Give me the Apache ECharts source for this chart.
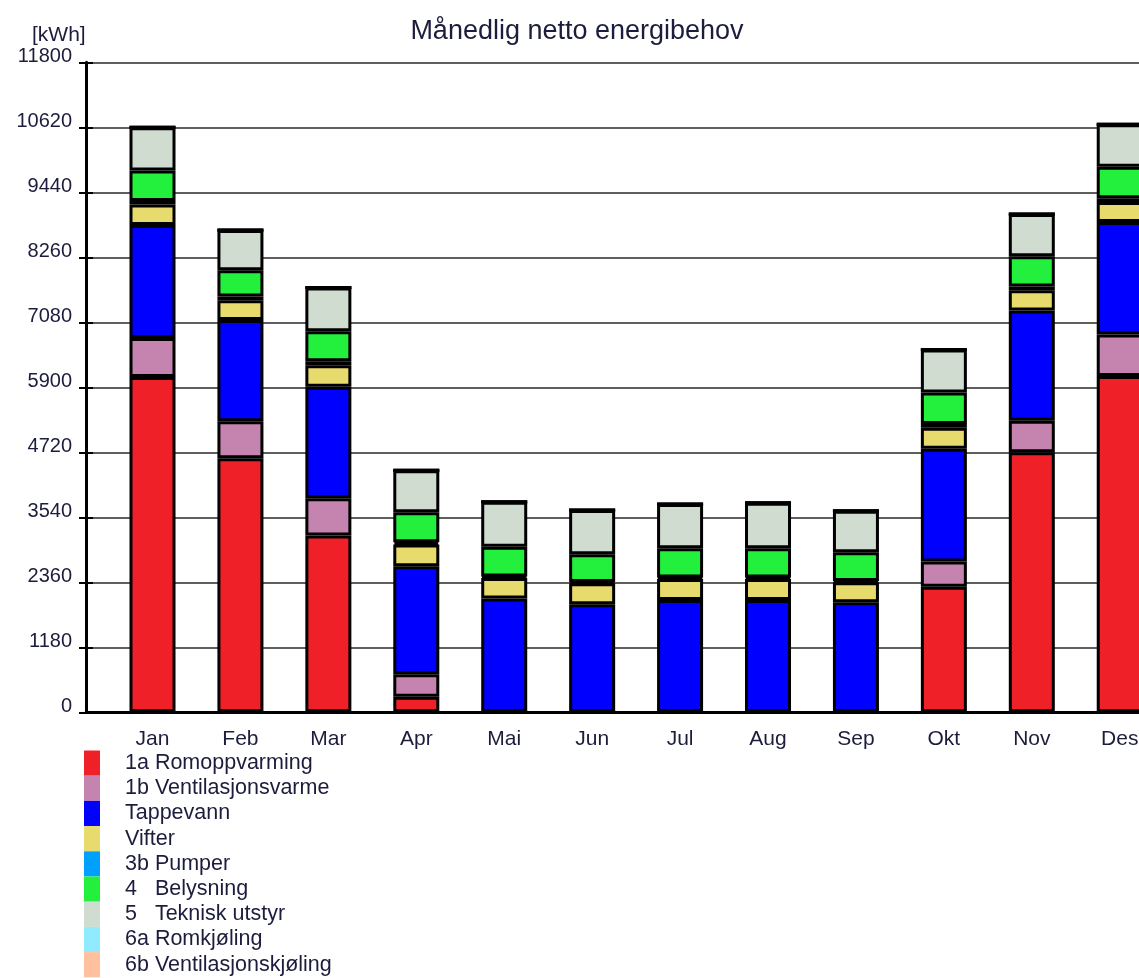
<!DOCTYPE html>
<html>
<head>
<meta charset="utf-8">
<title>Månedlig netto energibehov</title>
<script src="https://cdn.jsdelivr.net/npm/echarts@6/dist/echarts.min.js"></script>
<style>
  html, body { margin: 0; padding: 0; background: #fff; }
  #chart { width: 1139px; height: 978px; }
</style>
</head>
<body>
<div id="chart"></div>
<script>
// categories and tick values
const months = ['Jan', 'Feb', 'Mar', 'Apr', 'Mai', 'Jun', 'Jul', 'Aug', 'Sep', 'Okt', 'Nov', 'Des']
const yMax = 11800
const yStep = 1180

// kWh per month, one array per post
const romoppvarming = [6086, 4610, 3209, 283, 0, 0, 0, 0, 0, 2280, 4719, 6104]
const ventilasjonsvarme = [707, 673, 675, 407, 0, 0, 0, 0, 0, 457, 574, 753]
const tappevann = [2052, 1837, 2026, 1960, 2066, 1960, 2038, 2038, 1997, 2047, 2003, 2042]
const vifter = [372, 360, 390, 396, 374, 382, 384, 384, 363, 380, 365, 367]
const pumper = [67, 70, 75, 40, 25, 25, 25, 25, 25, 70, 70, 65]
const belysning = [553, 475, 541, 544, 541, 501, 530, 530, 519, 572, 546, 572]
const tekniskUtstyr = [786, 732, 798, 763, 816, 804, 803, 827, 755, 780, 770, 773]
const romkjoling = [0, 0, 0, 0, 0, 0, 0, 0, 0, 0, 0, 0]
const ventilasjonskjoling = [0, 0, 0, 0, 0, 0, 0, 0, 0, 0, 0, 0]

const posts = [
  { name: '1a Romoppvarming', data: romoppvarming, color: '#f02028' },
  { name: '1b Ventilasjonsvarme', data: ventilasjonsvarme, color: '#c583af' },
  { name: 'Tappevann', data: tappevann, color: '#0000ff' },
  { name: 'Vifter', data: vifter, color: '#e8db6e' },
  { name: '3b Pumper', data: pumper, color: '#00a0ff' },
  { name: '4   Belysning', data: belysning, color: '#22f03c' },
  { name: '5   Teknisk utstyr', data: tekniskUtstyr, color: '#d0dcd0' },
  { name: '6a Romkjøling', data: romkjoling, color: '#90ebff' },
  { name: '6b Ventilasjonskjøling', data: ventilasjonskjoling, color: '#ffc0a0' },
]

const font = "'Liberation Sans', Arial, sans-serif"
const textColor = '#1c1c3c'

// plot box: axis line at x=86, months spaced ~88px, first bar centre at 152.5
const W = 1139
const plotTop = 62.3
const plotH = 650
const band = 87.93
const barsLeft = 152.5 - band / 2
const barsRight = W - barsLeft - band * months.length

const chart = echarts.init(document.getElementById('chart'), null, { renderer: 'canvas' })

chart.setOption({
  animation: false,
  backgroundColor: '#fff',
  textStyle: { fontFamily: font },
  title: [
    {
      text: 'Månedlig netto energibehov',
      left: 572,
      top: 13,
      textAlign: 'center',
      textStyle: { fontFamily: font, fontSize: 27, fontWeight: 'normal', color: textColor },
    },
    {
      text: '[kWh]',
      left: 27,
      top: 20,
      textStyle: { fontFamily: font, fontSize: 21, fontWeight: 'normal', color: textColor },
    },
  ],
  legend: {
    orient: 'vertical',
    left: 84,
    top: 750.5,
    height: 240,
    padding: 0,
    itemGap: 0,
    itemWidth: 16,
    itemHeight: 25.2,
    icon: 'rect',
    itemStyle: { borderWidth: 0 },
    selectedMode: false,
    textStyle: { fontFamily: font, fontSize: 21.5, color: textColor, padding: [0, 0, 0, 20] },
    data: posts.map(p => p.name),
  },
  grid: [
    // frame: y axis, gridlines and base line
    { left: 86, right: 0, top: plotTop, height: plotH, outerBoundsMode: 'none' },
    // bars, last category runs past the right edge as in the source
    { left: barsLeft, right: barsRight, top: plotTop, height: plotH, outerBoundsMode: 'none' },
  ],
  xAxis: [
    {
      gridIndex: 0,
      type: 'value',
      min: 0,
      max: 1,
      axisLine: { show: true, lineStyle: { color: '#000', width: 3 } },
      axisTick: { show: false },
      axisLabel: { show: false },
      splitLine: { show: false },
    },
    {
      gridIndex: 1,
      type: 'category',
      data: months,
      axisLine: { show: false },
      axisTick: { show: false },
      axisLabel: { fontFamily: font, fontSize: 21, color: textColor, margin: 16 },
    },
  ],
  yAxis: [
    {
      gridIndex: 0,
      type: 'value',
      position: 'left',
      min: 0,
      max: yMax,
      interval: yStep,
      axisLine: { show: true, lineStyle: { color: '#000', width: 3 } },
      axisTick: { show: true, length: 7, lineStyle: { color: '#000', width: 2 } },
      axisLabel: {
        fontFamily: font,
        fontSize: 20,
        color: textColor,
        margin: 14,
        verticalAlign: 'bottom',
        lineHeight: 12,
        formatter: v => String(v),
      },
      splitLine: { show: true, lineStyle: { color: '#2a2a2a', width: 1.5 } },
    },
    {
      gridIndex: 0,
      type: 'value',
      position: 'left',
      offset: 0,
      min: 0,
      max: yMax,
      interval: yStep,
      axisLine: { show: false },
      axisTick: { show: true, inside: true, length: 7, lineStyle: { color: '#000', width: 2 } },
      axisLabel: { show: false },
      splitLine: { show: false },
    },
    {
      gridIndex: 1,
      type: 'value',
      min: 0,
      max: yMax,
      show: false,
    },
  ],
  series: posts.map(p => ({
    name: p.name,
    type: 'bar',
    xAxisIndex: 1,
    yAxisIndex: 2,
    stack: 'total',
    barWidth: 46,
    data: p.data,
    itemStyle: { color: p.color, borderColor: '#000', borderWidth: 3 },
  })),
})
</script>
</body>
</html>
